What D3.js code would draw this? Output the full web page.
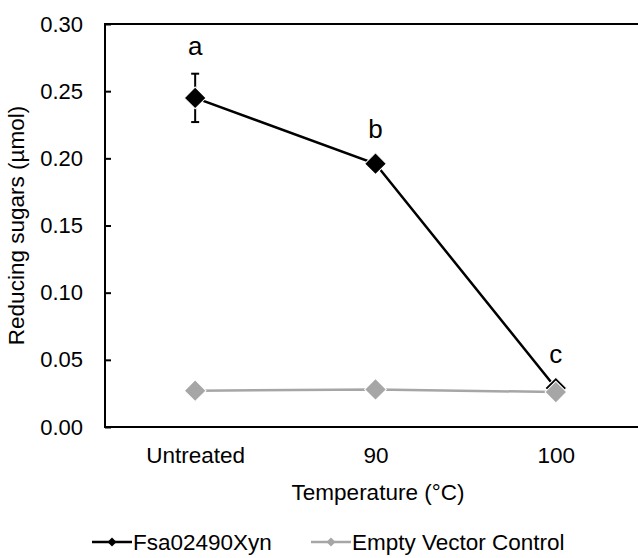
<!DOCTYPE html>
<html><head><meta charset="utf-8">
<script src="https://cdn.jsdelivr.net/npm/d3@7"></script>
<style>body{margin:0;background:#fff}svg{display:block}text{font-family:"Liberation Sans",Arial,sans-serif}</style>
</head><body>
<script>
const categories = ["Untreated", "90", "100"];
const fsaValues = [0.245, 0.196, 0.029];
const fsaErrors = [0.018, 0, 0];
const evcValues = [0.027, 0.028, 0.026];
const letters = ["a", "b", "c"];
const yTicks = [0, 0.05, 0.10, 0.15, 0.20, 0.25, 0.30];
const seriesNames = ["Fsa02490Xyn", "Empty Vector Control"];

const W = 638, H = 558;
const svg = d3.select("body").append("svg").attr("width", W).attr("height", H);
const pLeft = 105, pRight = 646, pTop = 24, pBottom = 427;
const FS = 22.5;

const x = d3.scalePoint().domain(categories).range([pLeft, pRight]).padding(0.5);
const y = d3.scaleLinear().domain([0, 0.30]).range([pBottom, pTop]);

// frame
svg.append("rect").attr("x", pLeft).attr("y", pTop).attr("width", pRight - pLeft).attr("height", pBottom - pTop)
  .attr("fill", "none").attr("stroke", "#000").attr("stroke-width", 2);

// y axis
const yAxis = d3.axisLeft(y).tickValues(yTicks).tickFormat(d3.format(".2f")).tickSizeInner(-6).tickSizeOuter(0).tickPadding(22);
const yg = svg.append("g").attr("transform", `translate(${pLeft},0)`).call(yAxis);
yg.select(".domain").remove();
yg.selectAll("line").attr("stroke", "#000").attr("stroke-width", 2);
yg.selectAll("text").attr("font-size", 22).attr("fill", "#000").attr("font-family", "Liberation Sans, Arial, sans-serif");

// x axis labels
const xAxis = d3.axisBottom(x).tickSize(0).tickPadding(20);
const xg = svg.append("g").attr("transform", `translate(0,${pBottom})`).call(xAxis);
xg.select(".domain").remove();
xg.selectAll("text").attr("font-size", FS).attr("fill", "#000").attr("font-family", "Liberation Sans, Arial, sans-serif");

// titles
svg.append("text").attr("transform", `translate(24,${(pTop + pBottom) / 2}) rotate(-90)`)
  .attr("text-anchor", "middle").attr("font-size", FS).text("Reducing sugars (µmol)");
svg.append("text").attr("x", 378).attr("y", 500).attr("text-anchor", "middle").attr("font-size", FS).text("Temperature (°C)");

const line = d3.line().x((d, i) => x(categories[i])).y(d => y(d));
const diamondPath = d3.symbol().type(d3.symbolSquare).size(235);

// EVC line (grey)
svg.append("path").datum(evcValues).attr("d", line).attr("fill", "none").attr("stroke", "#a6a6a6").attr("stroke-width", 2.5);
// Fsa line (black)
svg.append("path").datum(fsaValues).attr("d", line).attr("fill", "none").attr("stroke", "#000").attr("stroke-width", 2.5);

// error bars
fsaValues.forEach((v, i) => {
  const e = fsaErrors[i];
  if (!e) return;
  const cx = x(categories[i]);
  const g = svg.append("g").attr("stroke", "#000").attr("stroke-width", 2);
  g.append("line").attr("x1", cx).attr("x2", cx).attr("y1", y(v + e)).attr("y2", y(v - e));
  g.append("line").attr("x1", cx - 4).attr("x2", cx + 4).attr("y1", y(v + e)).attr("y2", y(v + e));
  g.append("line").attr("x1", cx - 4).attr("x2", cx + 4).attr("y1", y(v - e)).attr("y2", y(v - e));
});

// Fsa markers
svg.selectAll(".fsa").data(fsaValues).enter().append("path")
  .attr("d", diamondPath)
  .attr("transform", (d, i) => `translate(${x(categories[i])},${y(d)}) rotate(45)`)
  .attr("fill", "#000").attr("stroke", "#fff").attr("stroke-width", 1);
// EVC markers
svg.selectAll(".evc").data(evcValues).enter().append("path")
  .attr("d", diamondPath)
  .attr("transform", (d, i) => `translate(${x(categories[i])},${y(d)}) rotate(45)`)
  .attr("fill", "#a6a6a6").attr("stroke", "#fff").attr("stroke-width", 1);

// letters
const letterY = [fsaValues[0] + fsaErrors[0], fsaValues[1], fsaValues[2]];
const letterOff = [19, 26, 25];
letters.forEach((t, i) => {
  svg.append("text").attr("x", x(categories[i])).attr("y", y(letterY[i]) - letterOff[i])
    .attr("text-anchor", "middle").attr("font-size", 26).text(t);
});

// legend
const legendItems = [
  {name: seriesNames[0], color: "#000", x0: 92},
  {name: seriesNames[1], color: "#a6a6a6", x0: 311}
];
const ly = 542;
legendItems.forEach(it => {
  svg.append("line").attr("x1", it.x0).attr("x2", it.x0 + 40).attr("y1", ly).attr("y2", ly)
    .attr("stroke", it.color).attr("stroke-width", 2.5);
  svg.append("path").attr("d", d3.symbol().type(d3.symbolSquare).size(40))
    .attr("transform", `translate(${it.x0 + 20},${ly}) rotate(45)`).attr("fill", it.color);
  svg.append("text").attr("x", it.x0 + 41).attr("y", ly + 8).attr("font-size", FS).text(it.name);
});
</script>
</body></html>
